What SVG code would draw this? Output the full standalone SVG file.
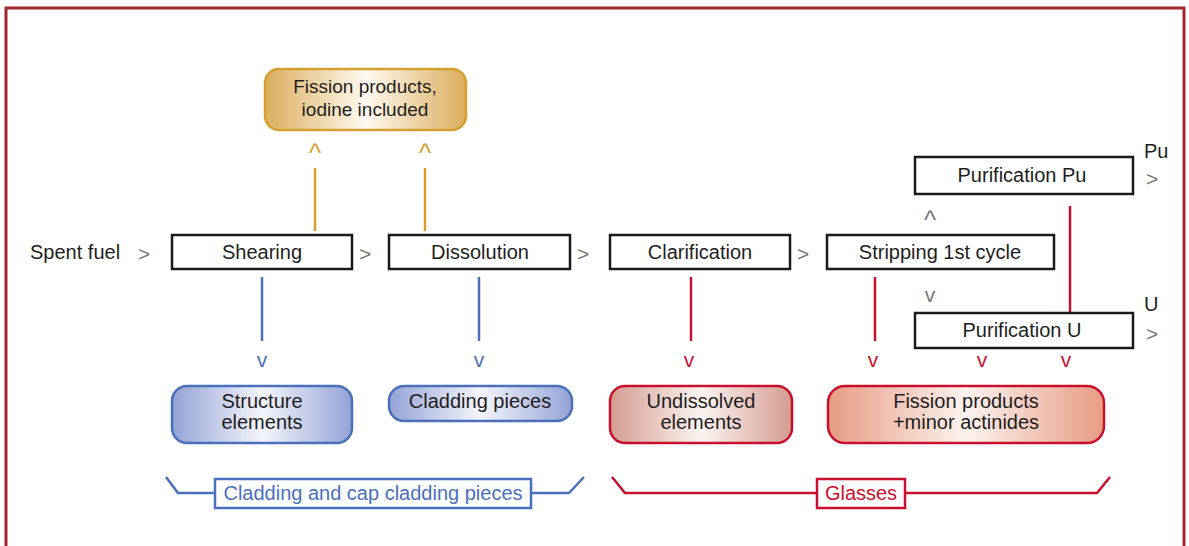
<svg xmlns="http://www.w3.org/2000/svg" width="1189" height="546" viewBox="0 0 1189 546">
<defs>
<linearGradient id="gGold" x1="0" x2="1" y1="0" y2="0"><stop offset="0" stop-color="#dcae5e"/><stop offset="0.5" stop-color="#fffaf0"/><stop offset="1" stop-color="#dcae5e"/></linearGradient>
<linearGradient id="gBlue" x1="0" x2="1" y1="0" y2="0"><stop offset="0" stop-color="#93a3d6"/><stop offset="0.5" stop-color="#f4f5fb"/><stop offset="1" stop-color="#93a3d6"/></linearGradient>
<linearGradient id="gRose" x1="0" x2="1" y1="0" y2="0"><stop offset="0" stop-color="#d39c90"/><stop offset="0.5" stop-color="#fcf4f1"/><stop offset="1" stop-color="#d39c90"/></linearGradient>
<linearGradient id="gSalmon" x1="0" x2="1" y1="0" y2="0"><stop offset="0" stop-color="#e69c84"/><stop offset="0.5" stop-color="#fdf3ee"/><stop offset="1" stop-color="#e69c84"/></linearGradient>
</defs>
<style>
text{font-family:"Liberation Sans",Arial,sans-serif;font-size:20px;fill:#1e1e1e}
.c{text-anchor:middle}
.box{fill:#fff;stroke:#1a1a1a;stroke-width:2.5}
.arr{fill:#777;font-size:21px}
.car{font-size:26px}
.ag{fill:#d4a030}
.ab{fill:#4a70bb}
.ar{fill:#c8102e}
.lg{stroke:#d4a030;stroke-width:2.5;fill:none}
.lb{stroke:#4a70bb;stroke-width:2.5;fill:none}
.lr{stroke:#c8102e;stroke-width:2.5;fill:none}
</style>
<rect x="6" y="8" width="1178" height="560" fill="none" stroke="#a3262e" stroke-width="3"/>

<g id="connectors">
<line class="lg" x1="315" y1="168" x2="315" y2="231"/>
<line class="lg" x1="425" y1="168" x2="425" y2="231"/>
<text class="arr car ag c" x="315" y="162">^</text>
<text class="arr car ag c" x="425" y="162">^</text>
<text class="arr" x="138" y="261">&gt;</text>
<text class="arr" x="359" y="261">&gt;</text>
<text class="arr" x="577" y="261">&gt;</text>
<text class="arr" x="797" y="261">&gt;</text>
<text class="arr car c" x="930" y="229">^</text>
<text class="arr c" x="930" y="302">v</text>
<text class="arr" x="1146" y="186">&gt;</text>
<text class="arr" x="1146" y="341">&gt;</text>
<line class="lr" x1="1070" y1="206" x2="1070" y2="313"/>
<line class="lb" x1="262" y1="277" x2="262" y2="341"/>
<line class="lb" x1="479" y1="277" x2="479" y2="341"/>
<line class="lr" x1="691" y1="277" x2="691" y2="341"/>
<line class="lr" x1="875" y1="277" x2="875" y2="341"/>
<text class="arr ab c" x="262" y="367">v</text>
<text class="arr ab c" x="479" y="367">v</text>
<text class="arr ar c" x="689" y="367">v</text>
<text class="arr ar c" x="873" y="367">v</text>
<text class="arr ar c" x="982" y="367">v</text>
<text class="arr ar c" x="1066" y="367">v</text>
</g>

<g id="fission-top">
<rect x="265" y="69" width="201" height="61" rx="14" fill="url(#gGold)" stroke="#d4a030" stroke-width="2.5"/>
<text class="c" x="365" y="93" style="font-size:19px">Fission products,</text>
<text class="c" x="365" y="116" style="font-size:19px">iodine included</text>
</g>

<g id="spent-fuel"><text x="30" y="259">Spent fuel</text></g>

<g id="shearing"><rect class="box" x="172" y="235" width="180" height="34"/><text class="c" x="262" y="259">Shearing</text></g>
<g id="dissolution"><rect class="box" x="389" y="235" width="181" height="34"/><text class="c" x="480" y="259">Dissolution</text></g>
<g id="clarification"><rect class="box" x="610" y="235" width="180" height="34"/><text class="c" x="700" y="259">Clarification</text></g>
<g id="stripping"><rect class="box" x="827" y="235" width="227" height="34"/><text class="c" x="940" y="259">Stripping 1st cycle</text></g>
<g id="purif-pu"><rect class="box" x="915" y="157" width="218" height="37"/><text class="c" x="1022" y="182">Purification Pu</text></g>
<g id="purif-u"><rect class="box" x="915" y="313" width="218" height="35"/><text class="c" x="1022" y="337">Purification U</text></g>
<g id="pu-label"><text x="1144" y="158">Pu</text></g>
<g id="u-label"><text x="1144" y="311">U</text></g>

<g id="structure">
<rect x="172" y="386" width="180" height="57" rx="15" fill="url(#gBlue)" stroke="#4a70bb" stroke-width="2.5"/>
<text class="c" x="262" y="408">Structure</text>
<text class="c" x="262" y="429">elements</text>
</g>
<g id="cladding">
<rect x="389" y="386" width="183" height="35" rx="15" fill="url(#gBlue)" stroke="#4a70bb" stroke-width="2.5"/>
<text class="c" x="480" y="408">Cladding pieces</text>
</g>
<g id="undissolved">
<rect x="610" y="386" width="182" height="57" rx="15" fill="url(#gRose)" stroke="#c8102e" stroke-width="2.5"/>
<text class="c" x="701" y="408">Undissolved</text>
<text class="c" x="701" y="429">elements</text>
</g>
<g id="fission-minor">
<rect x="828" y="386" width="276" height="57" rx="17" fill="url(#gSalmon)" stroke="#c8102e" stroke-width="2.5"/>
<text class="c" x="966" y="408">Fission products</text>
<text class="c" x="966" y="429">+minor actinides</text>
</g>

<g id="bracket-blue">
<polyline class="lb" points="166,477 178,493 215,493"/>
<polyline class="lb" points="531,493 569,493 584,477"/>
<rect x="215" y="479" width="316" height="29" fill="#fff" stroke="#4a70bb" stroke-width="2.5"/>
<text class="c" x="373" y="500" style="fill:#4a70bb">Cladding and cap cladding pieces</text>
</g>
<g id="bracket-red">
<polyline class="lr" points="612,477 625,493 817,493"/>
<polyline class="lr" points="905,493 1097,493 1110,477"/>
<rect x="817" y="479" width="88" height="29" fill="#fff" stroke="#c8102e" stroke-width="2.5"/>
<text class="c" x="861" y="500" style="fill:#c8102e">Glasses</text>
</g>
</svg>
